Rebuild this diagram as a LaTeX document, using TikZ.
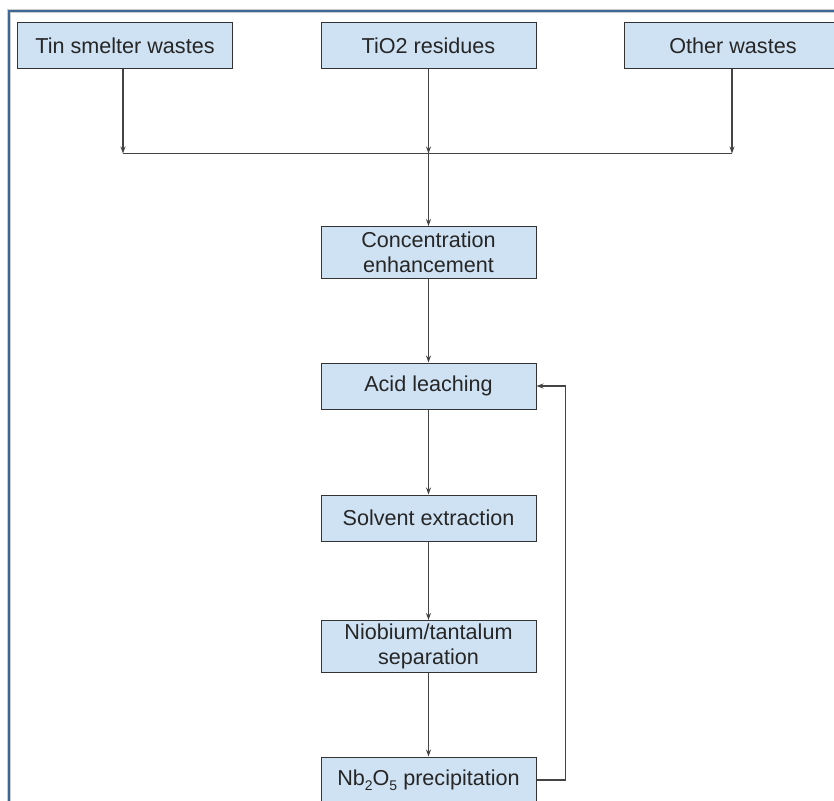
\documentclass[tikz,border=0pt]{standalone}
\usepackage{fontspec}
\setmainfont{Liberation Sans}
\usetikzlibrary{arrows.meta}
\definecolor{boxfill}{RGB}{207,226,243}
\definecolor{boxline}{RGB}{51,51,51}
\definecolor{flowline}{RGB}{68,68,68}
\definecolor{framecol}{RGB}{61,104,150}
\newcommand{\lowsub}[1]{\raisebox{-0.45ex}{\fontsize{14}{14}\selectfont #1}}
\begin{document}
\begin{tikzpicture}[x=1pt, y=-1pt,
    stepbox/.style={draw=boxline, fill=boxfill, line width=1pt, inner sep=0pt,
      minimum width=215pt, minimum height=46pt, align=center,
      font=\fontsize{21.6}{25}\selectfont, text=black!85},
    flow/.style={flowline, line width=1.1pt, -{Stealth[length=7pt,width=5pt]}},
    plain/.style={flowline, line width=1.1pt}]
    \useasboundingbox (0,0) rectangle (834,800);
    \clip (0,0) rectangle (834,800);
    \draw[gray!40, line width=3.5pt] (9,11) rectangle (860,830);
    \draw[framecol, line width=1.8pt] (9,11) rectangle (860,830);
    \node[stepbox] (W1) at (125,45.5) {Tin smelter wastes};
    \node[stepbox] (W2) at (428.5,45.5) {TiO2 residues};
    \node[stepbox, minimum width=218pt] (W3) at (733,45.5) {Other wastes};
    \node[stepbox, minimum height=52pt] (S1) at (428.5,252.5) {Concentration\\enhancement};
    \node[stepbox] (S2) at (428.5,386) {Acid leaching};
    \node[stepbox] (S3) at (428.5,518) {Solvent extraction};
    \node[stepbox, minimum height=52pt] (S4) at (428.5,646.5) {Niobium/tantalum\\separation};
    \node[stepbox] (S5) at (428.5,780) {Nb\lowsub{2}O\lowsub{5} precipitation};
    \coordinate (J1) at (123,153.5);
    \coordinate (J2) at (428.5,153.5);
    \coordinate (J3) at (732,153.5);
    \coordinate (R) at (565.5,0);
    \draw[plain] (J1) -- (J3);
    \draw[flow] (W1.south -| J1) -- (J1);
    \draw[flow] (W2) -- (J2);
    \draw[flow] (W3.south -| J3) -- (J3);
    \draw[flow] (J2) -- (S1);
    \draw[flow] (S1) -- (S2);
    \draw[flow] (S2) -- (S3);
    \draw[flow] (S3) -- (S4);
    \draw[flow] (S4) -- (S5);
    \draw[flow] (S5.east) -- (S5.east -| R) |- (S2.east);
\end{tikzpicture}
\end{document}
